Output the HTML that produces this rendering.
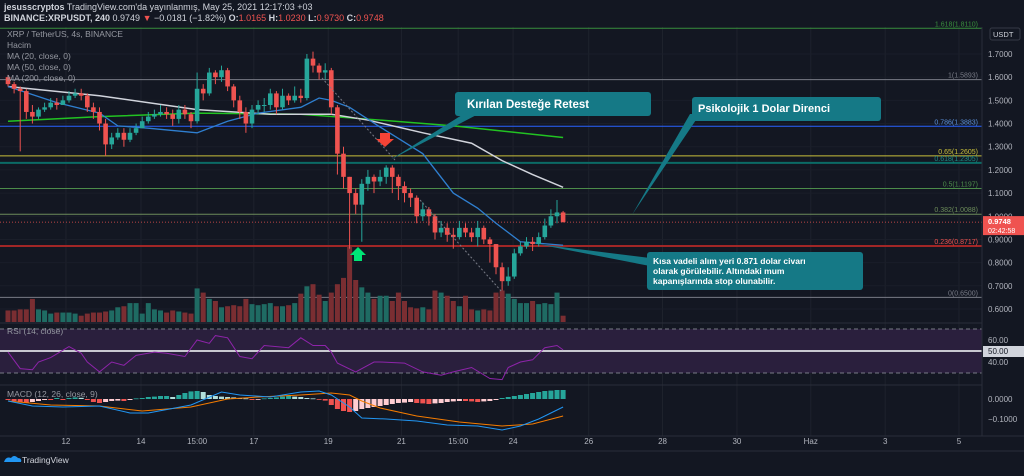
<!DOCTYPE html>
<html><head><meta charset="utf-8"><style>
body{margin:0;background:#131722;width:1024px;height:471px;overflow:hidden;font-family:"Liberation Sans",sans-serif}
svg text{font-family:"Liberation Sans",sans-serif}
</style></head><body>
<svg id="c" width="1024" height="471">
<rect width="1024" height="471" fill="#131722"/>
<text x="4" y="10" fill="#d1d4dc" font-size="9"><tspan font-weight="bold">jesusscryptos</tspan> TradingView.com'da yayınlanmış, May 25, 2021 12:17:03 +03</text>
<text x="4" y="21" fill="#d1d4dc" font-size="9" font-weight="bold">BINANCE:XRPUSDT, 240 <tspan font-weight="normal">0.9749</tspan> <tspan fill="#ef5350">▼</tspan> <tspan font-weight="normal">−0.0181 (−1.82%)</tspan> O:<tspan fill="#ef5350" font-weight="normal">1.0165</tspan> H:<tspan fill="#ef5350" font-weight="normal">1.0230</tspan> L:<tspan fill="#ef5350" font-weight="normal">0.9730</tspan> C:<tspan fill="#ef5350" font-weight="normal">0.9748</tspan></text>
<g id="grid"></g><g id="fib"></g><g id="vol"></g><g id="ma"></g><g id="candles"></g><g id="ind"></g><g id="ann"></g><g id="axes"></g>
<g fill="#9598a1" font-size="8.5">
<text x="7" y="37">XRP / TetherUS, 4s, BINANCE</text>
<text x="7" y="48">Hacim</text>
<text x="7" y="59">MA (20, close, 0)</text>
<text x="7" y="70">MA (50, close, 0)</text>
<text x="7" y="81">MA (200, close, 0)</text>
<text x="7" y="334">RSI (14, close)</text>
<text x="7" y="397">MACD (12, 26, close, 9)</text>
</g>
<g><path d="M4 462 q2 -6 7 -4 q3 -4 7 0 q4 0 3 4 z" fill="#2196f3"/><text x="22" y="463" fill="#d1d4dc" font-size="8.5">TradingView</text></g>
</svg>
<script>
const closes=[1.57,1.55,1.54,1.45,1.43,1.46,1.47,1.49,1.48,1.50,1.52,1.53,1.52,1.47,1.45,1.40,1.31,1.34,1.36,1.33,1.36,1.38,1.41,1.43,1.44,1.45,1.44,1.42,1.46,1.44,1.41,1.55,1.53,1.62,1.60,1.63,1.56,1.50,1.45,1.40,1.46,1.48,1.48,1.53,1.47,1.52,1.50,1.52,1.51,1.68,1.65,1.62,1.63,1.47,1.27,1.17,1.10,1.05,1.14,1.17,1.15,1.17,1.21,1.17,1.13,1.10,1.08,1.00,1.03,1.00,0.93,0.95,0.92,0.91,0.95,0.93,0.91,0.95,0.90,0.88,0.78,0.72,0.74,0.84,0.87,0.89,0.88,0.91,0.96,1.00,1.0165,0.9748];
const opens=[1.60,1.57,1.55,1.54,1.45,1.43,1.46,1.47,1.49,1.48,1.50,1.52,1.53,1.52,1.47,1.45,1.40,1.31,1.34,1.36,1.33,1.36,1.38,1.41,1.43,1.44,1.45,1.44,1.42,1.46,1.44,1.41,1.55,1.53,1.62,1.60,1.63,1.56,1.50,1.45,1.40,1.46,1.48,1.48,1.53,1.47,1.52,1.50,1.52,1.51,1.68,1.65,1.62,1.63,1.47,1.27,1.17,1.10,1.05,1.14,1.17,1.15,1.17,1.21,1.17,1.13,1.10,1.08,1.00,1.03,1.00,0.93,0.95,0.92,0.91,0.95,0.93,0.91,0.95,0.90,0.88,0.78,0.72,0.74,0.84,0.87,0.89,0.88,0.91,0.96,1.00,1.0165];
const highs=[1.61,1.58,1.56,1.55,1.48,1.47,1.49,1.51,1.51,1.52,1.54,1.55,1.55,1.53,1.49,1.47,1.42,1.36,1.38,1.38,1.38,1.40,1.43,1.45,1.46,1.48,1.47,1.46,1.48,1.48,1.45,1.62,1.57,1.64,1.63,1.65,1.64,1.57,1.52,1.47,1.48,1.50,1.51,1.55,1.54,1.55,1.53,1.56,1.55,1.70,1.71,1.66,1.66,1.64,1.48,1.30,1.17,1.12,1.16,1.20,1.18,1.20,1.22,1.22,1.18,1.15,1.12,1.09,1.06,1.04,1.01,0.98,0.97,0.95,0.98,0.97,0.95,0.98,0.96,0.91,0.88,0.80,0.78,0.86,0.89,0.91,0.91,0.93,0.99,1.03,1.07,1.023];
const lows=[1.56,1.53,1.28,1.42,1.40,1.42,1.45,1.46,1.46,1.48,1.49,1.51,1.50,1.45,1.42,1.37,1.26,1.29,1.33,1.30,1.32,1.35,1.38,1.40,1.42,1.43,1.42,1.39,1.40,1.42,1.38,1.40,1.50,1.52,1.57,1.58,1.54,1.47,1.42,1.36,1.38,1.44,1.45,1.46,1.44,1.46,1.48,1.49,1.49,1.50,1.62,1.59,1.59,1.44,1.18,1.12,0.86,1.01,0.89,1.11,1.10,1.13,1.14,1.10,1.07,1.06,1.04,0.97,0.98,0.96,0.90,0.91,0.89,0.86,0.90,0.91,0.89,0.87,0.88,0.80,0.75,0.68,0.70,0.73,0.83,0.86,0.85,0.87,0.90,0.95,0.97,0.973];
const volumes=[11,11,12,12,22,12,11,8,9,9,9,8,6,8,9,9,10,11,14,15,18,18,8,18,12,11,9,11,10,9,8,32,28,22,20,14,15,16,15,22,17,16,17,18,15,15,16,18,27,34,36,26,20,28,36,42,72,40,33,28,22,25,25,20,28,20,14,13,14,12,30,28,25,20,15,25,12,11,12,11,28,30,27,22,18,18,20,17,18,17,28,6];
const ma20Idx=[0,8,15,18,23,31,36,41,48,51,53,56,61,68,73,77,80,84,91];
const ma20Val=[1.56,1.49,1.445,1.39,1.38,1.36,1.41,1.445,1.47,1.51,1.50,1.47,1.385,1.27,1.10,1.035,0.97,0.89,0.875];
const ma50Idx=[0,15,31,43,53,59,68,76,81,86,91];
const ma50Val=[1.56,1.52,1.46,1.44,1.44,1.415,1.36,1.315,1.24,1.18,1.125];
const ma200Idx=[0,15,31,48,61,73,91];
const ma200Val=[1.41,1.43,1.445,1.44,1.415,1.39,1.34];
const rsiIdx=[0,2,4,5,7,10,12,13,15,17,19,21,24,26,29,31,33,34,36,38,40,42,46,48,50,52,53,54,57,60,61,65,68,71,73,76,79,81,82,84,86,88,90,91];
const rsiVal=[49,34,33,40,44,54,48,40,31,40,37,46,49,48,45,60,57,64,62,45,43,55,53,62,55,55,49,39,31,40,40,39,31,28,31,35,25,24,35,40,42,53,55,51];
const macdIdx=[0,4,9,15,20,23,30,35,38,43,48,51,53,56,58,62,67,72,77,81,84,87,91];
const macdVal=[-0.01,-0.035,-0.04,-0.035,-0.07,-0.07,-0.03,0.035,0.02,0.01,0.035,0.04,0.02,-0.04,-0.095,-0.10,-0.11,-0.13,-0.135,-0.155,-0.135,-0.10,-0.04];
const sigIdx=[0,7,15,22,30,36,41,48,53,56,58,61,67,74,81,86,91];
const sigVal=[-0.01,-0.03,-0.035,-0.06,-0.04,0.0,0.01,0.02,0.03,0.02,-0.01,-0.045,-0.085,-0.115,-0.135,-0.125,-0.085];
const hist=[-0.005,-0.01,-0.015,-0.02,-0.015,-0.01,-0.005,-0.005,0.005,-0.005,0.005,0.008,0.006,-0.005,-0.015,-0.02,-0.015,-0.01,-0.008,-0.01,-0.005,0.003,0.005,0.01,0.012,0.015,0.015,0.01,0.02,0.03,0.038,0.04,0.035,0.02,0.015,0.012,0.01,0.008,0.005,0.003,-0.005,-0.003,0.003,0.005,0.008,0.012,0.015,0.012,0.01,0.005,0.003,-0.003,-0.008,-0.03,-0.05,-0.06,-0.065,-0.06,-0.05,-0.045,-0.04,-0.035,-0.03,-0.025,-0.02,-0.018,-0.015,-0.02,-0.022,-0.025,-0.022,-0.02,-0.015,-0.012,-0.01,-0.01,-0.012,-0.015,-0.012,-0.01,-0.005,0.005,0.01,0.015,0.02,0.025,0.03,0.035,0.04,0.042,0.045,0.045];
const fibLevels=["1.618","1","0.786","0.65","0.618","0.5","0.382","0.236","0"];
const fibPrices=[1.8110,1.5893,1.3883,1.2605,1.2305,1.1197,1.0088,0.8717,0.6500];
const fibColors=["#388e3c","#787b86","#2962ff","#c9c03b","#0b6b66","#4c8c4a","#6c8c5a","#a12626","#787b86"];
const priceTicks=[1.7,1.6,1.5,1.4,1.3,1.2,1.1,1.0,0.9,0.8,0.7,0.6];
const dateLabels=["12","14","15:00","17","19","21","15:00","24","26","28","30","Haz","3","5"];
const dateIdx=[9.5,21.8,31,40.3,52.5,64.5,73.8,82.8,95.2,107.3,119.5,131.6,143.8,155.9];

const NS="http://www.w3.org/2000/svg";
const X=i=>8+i*6.1;
const Y=p=>54+(1.7-p)*231.8;
const VY=v=>322-v*1.05;
const RY=r=>351-(r-50)*1.1;
const MY=m=>399-m*200;
function mk(g,tag,at){const e=document.createElementNS(NS,tag);for(const k in at)e.setAttribute(k,at[k]);document.getElementById(g).appendChild(e);return e;}
// grid
dateIdx.forEach((d,i)=>{const l=mk('grid','line',{x1:X(d),x2:X(d),y1:27,y2:436,stroke:'#1e222d'});


const t=mk('axes','text',{x:X(d),y:444,fill:'#b2b5be','font-size':8,'text-anchor':'middle'});t.textContent=dateLabels[i];

});
priceTicks.forEach(p=>{const l=mk('grid','line',{x1:0,x2:982,y1:Y(p),y2:Y(p),stroke:'#1a1e29'});


const t=mk('axes','text',{x:988,y:Y(p)+3,fill:'#b2b5be','font-size':8});t.textContent=p.toFixed(4);

});
// panes
[[0,323,982,323],[0,385,982,385],[0,436,1024,436],[982,27,982,436],[0,451,1024,451]].forEach(a=>{const l=mk('axes','line',{x1:a[0],y1:a[1],x2:a[2],y2:a[3],stroke:'#2a2e39'});

});
// fib
fibPrices.forEach((p,i)=>{const y=Y(p);const th=(i==4||i==7)?2:1;
const l=mk('fib','line',{x1:0,x2:982,y1:y,y2:y,stroke:fibColors[i],'stroke-width':th});


const t=mk('fib','text',{x:978,y:y-2,fill:fibColors[i]=='#0b6b66'?'#1c8c86':(i==7?'#ef5350':fibColors[i]=='#2962ff'?'#5b8fd8':fibColors[i]),'font-size':7,'text-anchor':'end'});
t.textContent=fibLevels[i]+'('+p.toFixed(4)+')';

});
// current price line
{const l=mk('fib','line',{x1:0,x2:982,y1:Y(0.9748),y2:Y(0.9748),stroke:'#ef5350','stroke-dasharray':'1 2','stroke-width':0.8});

}
// volume
volumes.forEach((v,i)=>{const up=closes[i]>=opens[i];const r=mk('vol','rect',{x:X(i)-2.5,y:VY(v),width:5,height:322-VY(v),fill:up?'#1f6b63':'#7a2e32'});

});
// MAs
function poly(g,idx,val,f,col,w,name){const pts=idx.map((d,i)=>X(d)+','+f(val[i])).join(' ');const p=mk(g,'polyline',{points:pts,fill:'none',stroke:col,'stroke-width':w});

}
poly('ma',ma200Idx,ma200Val,Y,'#22c322',1.5,'ma200-line');
poly('ma',ma50Idx,ma50Val,Y,'#d1d4dc',1.5,'ma50-line');
poly('ma',ma20Idx,ma20Val,Y,'#2f7fd0',1.3,'ma20-line');
// candles
closes.forEach((c,i)=>{const o=opens[i];const up=c>=o;const col=up?'#26a69a':'#ef5350';
const w=mk('candles','line',{x1:X(i),x2:X(i),y1:Y(highs[i]),y2:Y(lows[i]),stroke:col});


const t=Math.min(Y(o),Y(c));const r=mk('candles','rect',{x:X(i)-2.3,y:t,width:4.6,height:Math.max(1,Math.abs(Y(o)-Y(c))),fill:col});

});
// RSI
{const b=mk('ind','rect',{x:0,y:RY(70),width:982,height:RY(30)-RY(70),fill:'#2a1f3d'});


[70,30].forEach(r=>{const l=mk('ind','line',{x1:0,x2:982,y1:RY(r),y2:RY(r),stroke:'#787b86','stroke-dasharray':'4 3'});

});
const m=mk('ind','line',{x1:0,x2:982,y1:RY(50),y2:RY(50),stroke:'#c8c8d0','stroke-width':2});

}
poly('ind',rsiIdx,rsiVal,RY,'#8e24aa',1,'rsi-line');
[[60,'60.00'],[40,'40.00']].forEach(a=>{const t=mk('axes','text',{x:988,y:RY(a[0])+3,fill:'#b2b5be','font-size':8});t.textContent=a[1];

});
{const r=mk('axes','rect',{x:983,y:RY(50)-5,width:41,height:11,fill:'#d1d4dc'});


const t=mk('axes','text',{x:988,y:RY(50)+3,fill:'#131722','font-size':8});t.textContent='50.00';

}
// MACD
hist.forEach((h,i)=>{const prev=i?hist[i-1]:0;let col;if(h>=0)col=h>=prev?'#26a69a':'#b2dfdb';else col=h<=prev?'#ef5350':'#ffcdd2';
const y=Math.min(MY(h),MY(0));const r=mk('ind','rect',{x:X(i)-2.5,y:y,width:5,height:Math.max(0.8,Math.abs(MY(h)-MY(0))),fill:col});

});
poly('ind',sigIdx,sigVal,MY,'#f57c00',1,'macd-signal-line');
poly('ind',macdIdx,macdVal,MY,'#2196f3',1,'macd-line');
[[0,'0.0000'],[-0.1,'−0.1000']].forEach(a=>{const t=mk('axes','text',{x:988,y:MY(a[0])+3,fill:'#b2b5be','font-size':8});t.textContent=a[1];

});
// price label
{const r=mk('axes','rect',{x:983,y:Y(0.9748)-6,width:41,height:19,fill:'#ef5350'});


const t=mk('axes','text',{x:988,y:Y(0.9748)+2,fill:'#fff','font-size':7.5,'font-weight':'bold'});t.textContent='0.9748';


const t2=mk('axes','text',{x:988,y:Y(0.9748)+11,fill:'#fff','font-size':7});t2.textContent='02:42:58';


const u=mk('axes','rect',{x:990,y:28,width:30,height:12,rx:2,fill:'#131722',stroke:'#363a45'});


const ut=mk('axes','text',{x:993,y:37,fill:'#d1d4dc','font-size':7.5});ut.textContent='USDT';

}
</script>
<svg width="1024" height="471" style="position:absolute;left:0;top:0">
<line x1="322" y1="78" x2="395" y2="160" stroke="#787b86" stroke-dasharray="2 2"/>
<line x1="420" y1="200" x2="502" y2="292" stroke="#787b86" stroke-dasharray="2 2"/>
<polygon points="390,160 470,110 486,110" fill="#157986"/>
<rect x="455" y="92" width="196" height="24" rx="3" fill="#157986"/>
<text x="467" y="108" fill="#fff" font-size="11.5" font-weight="bold">Kırılan Desteğe Retest</text>
<polygon points="632,215 690,114 700,114" fill="#157986"/>
<rect x="692" y="97" width="189" height="24" rx="3" fill="#157986"/>
<text x="698" y="112" fill="#fff" font-size="11" font-weight="bold">Psikolojik 1 Dolar Direnci</text>
<polygon points="537,244 650,258 650,266" fill="#157986"/>
<rect x="647" y="252" width="216" height="38" rx="3" fill="#157986"/>
<text fill="#fff" font-size="8.5" font-weight="bold"><tspan x="653" y="264">Kısa vadeli alım yeri 0.871 dolar civarı</tspan><tspan x="653" y="274">olarak görülebilir. Altındaki mum</tspan><tspan x="653" y="284">kapanışlarında stop olunabilir.</tspan></text>
<path d="M380 133 h10 v6 h4 l-9 8 l-9 -8 h4 z" fill="#f44336"/>
<path d="M358 247 l-8 8 h4 v6 h8 v-6 h4 z" fill="#00e676"/>
</svg>
</body></html>
